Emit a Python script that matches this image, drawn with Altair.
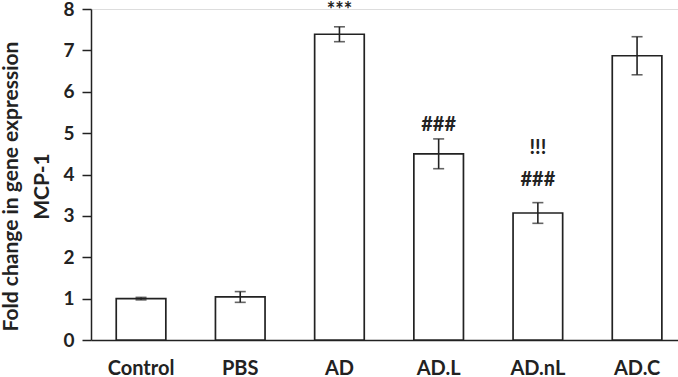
import altair as alt
import pandas as pd

groups = ["Control", "PBS", "AD", "AD.L", "AD.nL", "AD.C"]
means = [1.00, 1.04, 7.39, 4.50, 3.07, 6.87]
errors = [0.03, 0.13, 0.18, 0.36, 0.25, 0.46]

ann_groups = ["AD", "AD.L", "AD.nL", "AD.nL"]
ann_text = ["***", "###", "###", "!!!"]
ann_y = [7.95, 5.2, 3.87, 4.64]

df = pd.DataFrame({"group": groups, "mean": means, "err": errors})
df["lo"] = df["mean"] - df["err"]
df["hi"] = df["mean"] + df["err"]
ann = pd.DataFrame({"group": ann_groups, "text": ann_text, "y": ann_y})

FONT = "Lato"
C = "#222"
xscale = alt.Scale(domain=groups, paddingInner=0.5, paddingOuter=0.2085, align=0.61)
yscale = alt.Scale(domain=[0, 8], nice=False)

x = alt.X("group:N", scale=xscale, sort=groups, title=None,
          axis=alt.Axis(labelAngle=0, ticks=False, labelPadding=18, labelFont=FONT,
                        labelFontSize=20, labelFontWeight="bold", labelColor=C,
                        domainColor=C, domainWidth=1.5))

bars = alt.Chart(df).mark_bar(fill="white", stroke=C, strokeWidth=1.7).encode(
    x=x,
    y=alt.Y("mean:Q", scale=yscale,
            title=["Fold change in gene expression", "MCP-1"],
            axis=alt.Axis(values=list(range(9)), grid=False, tickSize=9, tickColor=C,
                          tickWidth=1.5, domainColor=C, domainWidth=1.5,
                          labelFont=FONT, labelFontSize=19, labelFontWeight="bold",
                          labelColor=C, labelPadding=8,
                          titleFont=FONT, titleFontSize=21, titleFontWeight="bold",
                          titleColor=C, titlePadding=10, titleLineHeight=31,
                          titleY=177)),
)
err_rule = alt.Chart(df).mark_rule(color=C, strokeWidth=1.6).encode(
    x=alt.X("group:N", scale=xscale, sort=groups), y="lo:Q", y2="hi:Q")
cap_lo = alt.Chart(df).mark_tick(color=C, size=11, thickness=1.6).encode(
    x=alt.X("group:N", scale=xscale, sort=groups), y=alt.Y("lo:Q", scale=yscale))
cap_hi = alt.Chart(df).mark_tick(color=C, size=11, thickness=1.6).encode(
    x=alt.X("group:N", scale=xscale, sort=groups), y=alt.Y("hi:Q", scale=yscale))
texts = alt.Chart(ann).mark_text(font=FONT, fontSize=20, fontWeight="bold", color=C,
                                 baseline="middle").encode(
    x=alt.X("group:N", scale=xscale, sort=groups), y=alt.Y("y:Q", scale=yscale), text="text:N")

chart = alt.layer(bars, err_rule, cap_lo, cap_hi, texts).properties(
    width=587, height=331,
    autosize=alt.AutoSizeParams(type="none"),
    padding={"left": 91, "top": 9, "right": 0, "bottom": 37}
).configure_view(stroke=None).configure(background="white")

chart.save("out.html", embed_options={"renderer": "svg", "actions": False})
